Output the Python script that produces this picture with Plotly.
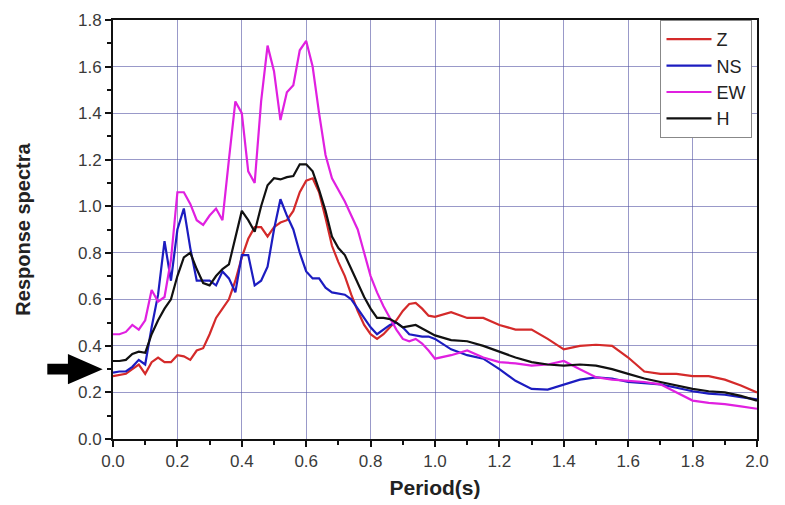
import plotly.graph_objects as go

period = [0.00, 0.02, 0.04, 0.06, 0.08, 0.10, 0.12, 0.14, 0.16, 0.18,
          0.20, 0.22, 0.24, 0.26, 0.28, 0.30, 0.32, 0.34, 0.36, 0.38,
          0.40, 0.42, 0.44, 0.46, 0.48, 0.50, 0.52, 0.54, 0.56, 0.58,
          0.60, 0.62, 0.64, 0.66, 0.68, 0.70, 0.72, 0.74, 0.76, 0.78,
          0.80, 0.82, 0.84, 0.86, 0.88, 0.90, 0.92, 0.94, 0.96, 0.98,
          1.00, 1.05, 1.10, 1.15, 1.20, 1.25, 1.30, 1.35, 1.40, 1.45,
          1.50, 1.55, 1.60, 1.65, 1.70, 1.75, 1.80, 1.85, 1.90, 1.95, 2.00]

z_values = [0.27, 0.275, 0.28, 0.30, 0.32, 0.28, 0.33, 0.35, 0.33, 0.33,
            0.36, 0.355, 0.34, 0.38, 0.39, 0.45, 0.52, 0.56, 0.60, 0.68,
            0.78, 0.86, 0.91, 0.91, 0.87, 0.91, 0.93, 0.94, 0.98, 1.06,
            1.11, 1.12, 1.06, 0.95, 0.83, 0.76, 0.70, 0.62, 0.55, 0.49,
            0.45, 0.43, 0.45, 0.48, 0.51, 0.55, 0.58, 0.585, 0.56, 0.53,
            0.525, 0.545, 0.52, 0.52, 0.49, 0.47, 0.47, 0.43, 0.385, 0.40,
            0.405, 0.40, 0.35, 0.29, 0.28, 0.28, 0.27, 0.27, 0.255, 0.23, 0.20]

ns_values = [0.285, 0.29, 0.29, 0.31, 0.34, 0.32, 0.48, 0.62, 0.85, 0.68,
             0.90, 0.99, 0.82, 0.68, 0.68, 0.68, 0.66, 0.72, 0.69, 0.63,
             0.79, 0.79, 0.66, 0.68, 0.74, 0.90, 1.03, 0.96, 0.90, 0.80,
             0.72, 0.69, 0.69, 0.65, 0.63, 0.625, 0.62, 0.60, 0.56, 0.52,
             0.48, 0.45, 0.47, 0.49, 0.50, 0.48, 0.45, 0.445, 0.44, 0.44,
             0.43, 0.385, 0.36, 0.345, 0.30, 0.25, 0.215, 0.212, 0.235, 0.255,
             0.265, 0.26, 0.245, 0.24, 0.235, 0.22, 0.205, 0.195, 0.19, 0.18, 0.17]

ew_values = [0.45, 0.45, 0.46, 0.49, 0.47, 0.51, 0.64, 0.59, 0.61, 0.77,
             1.06, 1.06, 1.01, 0.94, 0.92, 0.96, 0.99, 0.94, 1.20, 1.45,
             1.40, 1.15, 1.10, 1.45, 1.69, 1.58, 1.37, 1.49, 1.52, 1.67,
             1.71, 1.60, 1.40, 1.22, 1.12, 1.07, 1.02, 0.96, 0.90, 0.80,
             0.70, 0.63, 0.57, 0.52, 0.47, 0.43, 0.42, 0.43, 0.41, 0.38,
             0.345, 0.36, 0.38, 0.35, 0.33, 0.325, 0.315, 0.32, 0.335, 0.30,
             0.265, 0.255, 0.25, 0.245, 0.235, 0.20, 0.165, 0.155, 0.15, 0.14, 0.13]

h_values = [0.335, 0.335, 0.34, 0.365, 0.375, 0.37, 0.45, 0.51, 0.56, 0.60,
            0.70, 0.78, 0.80, 0.73, 0.67, 0.66, 0.70, 0.73, 0.75, 0.86,
            0.98, 0.94, 0.89, 1.00, 1.09, 1.12, 1.115, 1.125, 1.13, 1.18,
            1.18, 1.15, 1.07, 0.98, 0.87, 0.82, 0.79, 0.73, 0.67, 0.61,
            0.56, 0.52, 0.52, 0.515, 0.50, 0.48, 0.485, 0.49, 0.475, 0.46,
            0.445, 0.425, 0.42, 0.40, 0.375, 0.35, 0.33, 0.32, 0.315, 0.32,
            0.315, 0.30, 0.28, 0.26, 0.245, 0.23, 0.215, 0.205, 0.20, 0.185, 0.165]

series_names = ["Z", "NS", "EW", "H"]
series_colors = ["#d42a2a", "#1c1cc0", "#e020e0", "#111111"]
series_values = [z_values, ns_values, ew_values, h_values]

x_range = [0, 2.0]
y_range = [0, 1.8]
arrow_value = 0.3

fig = go.Figure()
for name, color, vals in zip(series_names, series_colors, series_values):
    fig.add_trace(go.Scatter(x=period, y=vals, mode="lines", name=name,
                             line=dict(color=color, width=2.2)))

grid_color = "rgba(85,85,165,0.6)"
font_family = "Liberation Sans, Arial, sans-serif"
tick_font = dict(family=font_family, size=17, color="#3a3a3a")
title_font = dict(family=font_family, size=20, color="#222222")

common = dict(dtick=0.2, tickformat=".1f", showgrid=True, automargin=False,
              gridcolor=grid_color, gridwidth=1.3, zeroline=False,
              showline=True, linecolor="#111111", linewidth=2, mirror=True,
              ticks="outside", ticklen=6, tickwidth=1.5, tickcolor="#111111",
              minor=dict(dtick=0.1, ticks="outside", ticklen=4, tickcolor="#111111", showgrid=False),
              tickfont=tick_font)

fig.update_xaxes(range=x_range, **common,
                 title=dict(text="<b>Period(s)</b>", font=dict(family=font_family, size=21, color="#222222"), standoff=10))
fig.update_yaxes(range=y_range, **common,
                 title=dict(text="<b>Response spectra</b>", font=title_font, standoff=42))

# arrow marker pointing at the axis (paper coordinates)
yp = (arrow_value - y_range[0]) / (y_range[1] - y_range[0])
fig.add_shape(type="path", xref="paper", yref="paper",
              path=(f"M -0.102 {yp+0.013} L -0.070 {yp+0.013} L -0.070 {yp+0.036} "
                    f"L -0.016 {yp} L -0.070 {yp-0.036} L -0.070 {yp-0.013} "
                    f"L -0.102 {yp-0.013} Z"),
              fillcolor="black", line=dict(color="black", width=0), layer="above")

fig.update_layout(
    width=785, height=505,
    margin=dict(l=113, r=28, t=20, b=66),
    plot_bgcolor="white", paper_bgcolor="white",
    legend=dict(x=0.993, y=1.0, xanchor="right", yanchor="top",
                bgcolor="white", bordercolor="#888888", borderwidth=1,
                font=dict(family=font_family, size=18, color="#222222"),
                itemwidth=45, tracegroupgap=0),
    showlegend=True,
)

fig.write_html("out.html")
